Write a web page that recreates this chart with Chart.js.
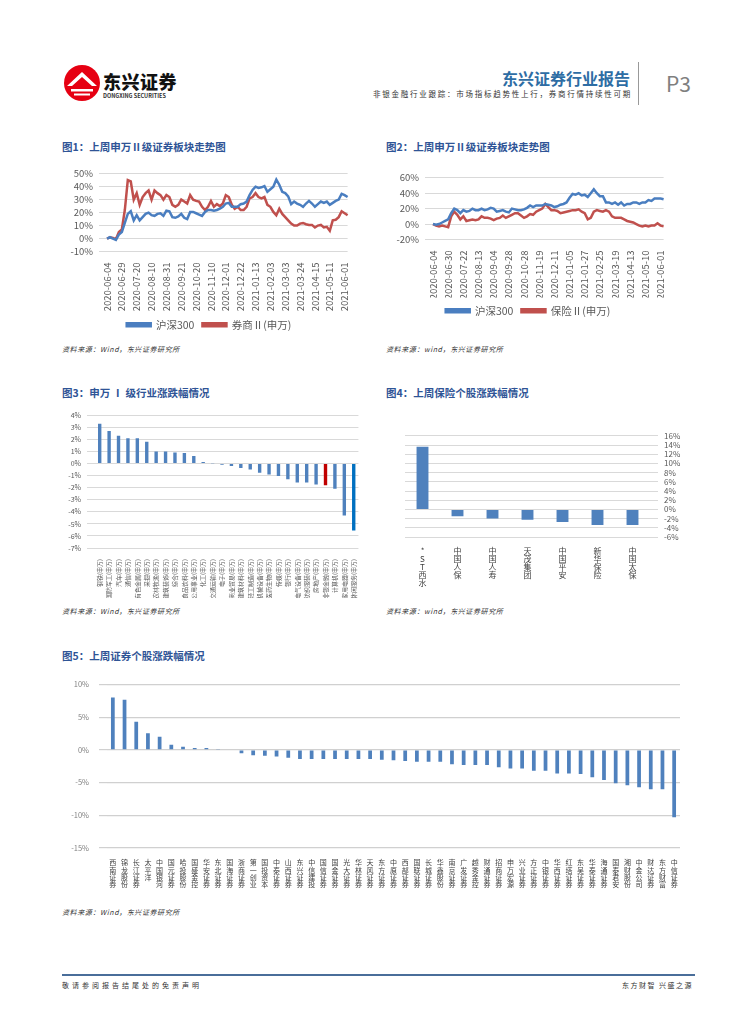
<!DOCTYPE html>
<html>
<head>
<meta charset="utf-8">
<script src="https://cdn.jsdelivr.net/npm/chart.js@4.4.0/dist/chart.umd.min.js"></script>
<style>
body{margin:0;width:755px;height:1024px;background:#fff;position:relative;overflow:hidden;font-family:"Noto Sans CJK SC","Noto Sans",sans-serif}
.abs{position:absolute;white-space:nowrap}
.title{font-size:10.5px;font-weight:bold;color:#2F5496;line-height:14px}
.src{font-size:7px;font-style:italic;color:#333;line-height:10px;letter-spacing:0.6px}
canvas{position:absolute}
</style>
</head>
<body>
<!-- header -->
<svg class="abs" style="left:63px;top:64px" width="38" height="38" viewBox="0 0 38 38">
  <circle cx="19" cy="19" r="18" fill="#E60012"/>
  <path d="M4 22 L19 8 L34 22 L29 22 L19 13 L9 22 Z" fill="#fff"/>
  <path d="M8 25 H30 V27.5 H8 Z" fill="#fff"/>
  <path d="M11 29.5 H27 V31.5 H11 Z" fill="#fff"/>
</svg>
<div class="abs" style="left:103px;top:68px;font-size:18px;font-weight:900;color:#111;letter-spacing:0.5px">东兴证券</div>
<div class="abs" style="left:103px;top:92px;font-size:5.5px;font-weight:bold;color:#333">DONGXING SECURITIES</div>
<div class="abs" style="right:125px;top:66px;font-size:16px;font-weight:bold;color:#2E6DA4">东兴证券行业报告</div>
<div class="abs" style="right:123px;top:88px;font-size:7.5px;color:#333;letter-spacing:1.75px">非银金融行业跟踪：市场指标趋势性上行，券商行情持续性可期</div>
<div class="abs" style="left:638px;top:62px;width:1px;height:43px;background:#999"></div>
<div class="abs" style="left:666px;top:68px;font-size:21px;color:#7F7F7F">P3</div>

<div class="abs title" style="left:62px;top:140px">图1：上周申万Ⅱ级证券板块走势图</div>
<div class="abs title" style="left:386px;top:140px">图2：上周申万Ⅱ级证券板块走势图</div>
<canvas id="c1" width="300" height="178" style="left:62px;top:162px"></canvas>
<canvas id="c2" width="292" height="160" style="left:386px;top:166px"></canvas>
<div class="abs src" style="left:62px;top:344px">资料来源：Wind，东兴证券研究所</div>
<div class="abs src" style="left:386px;top:344px">资料来源：wind，东兴证券研究所</div>

<div class="abs title" style="left:62px;top:386px">图3：申万 Ⅰ 级行业涨跌幅情况</div>
<div class="abs title" style="left:386px;top:386px">图4：上周保险个股涨跌幅情况</div>
<canvas id="c3" width="302" height="193" style="left:62px;top:405px"></canvas>
<canvas id="c4" width="290" height="164" style="left:400px;top:425px"></canvas>
<div class="abs src" style="left:62px;top:606px">资料来源：Wind，东兴证券研究所</div>
<div class="abs src" style="left:386px;top:606px">资料来源：wind，东兴证券研究所</div>

<div class="abs title" style="left:62px;top:649px">图5：上周证券个股涨跌幅情况</div>
<canvas id="c5" width="624" height="232" style="left:62px;top:670px"></canvas>
<div class="abs src" style="left:62px;top:907px">资料来源：Wind，东兴证券研究所</div>

<!-- footer -->
<div class="abs" style="left:62px;top:974px;width:633px;height:2px;background:#4A6E9A"></div>
<div class="abs" style="left:62px;top:980px;font-size:7px;color:#333;letter-spacing:3px">敬请参阅报告结尾处的免责声明</div>
<div class="abs" style="right:62px;top:980px;font-size:7px;color:#333;letter-spacing:1.5px">东方财智 兴盛之源</div>

<script>
// ---- 图1 ----
const dates1 = ['2020-06-04','2020-06-29','2020-07-20','2020-08-10','2020-08-31','2020-09-21','2020-10-20','2020-11-10','2020-12-01','2020-12-22','2021-01-13','2021-02-03','2021-03-03','2021-03-24','2021-04-15','2021-05-11','2021-06-01'];
const hs300A = [0,1,0,-1,3,5, 12,19,21,14,18, 14,16.5,19,20,18, 17.5,19,19.5,17.5,21.5, 21,16.5,16,17,19, 16,15,20.5,20.5,19.5, 18.5,17.5,20.5,22,22, 21.5,22,23,24.5,27, 27.5,24.5,24.5,24.5,26.5, 27,28.5,33.5,37.5,40, 39,39.5,40.5,36,38, 40,45.5,41.5,36,35, 32.5,26.5,28.5,27,26, 24.5,27,29,27,24.5, 26.5,28.5,27.5,28.5,26, 27.5,29,30,34.5,33.5, 32];
const brokers = [0,1,0.5,-0.5,5,7, 22,45,44,30,35, 26,32,35,37,30, 37,35,33.5,30,33.5, 32,26,24.5,26,30, 28.5,27,33.5,30,29, 28.5,24.5,22,24.5,29, 24.5,26.5,25,27,33.5, 32,26,23,24.5,22, 22,24.5,31,32,35, 32,31,32,26,24.5, 20.5,18,23,19,16.5, 14,11.5,10,10,11.5, 12,11,10.5,10.5,8.5, 10,10.5,8.5,9,6, 14,14.5,16.5,21,19.5, 18];
const step1 = 5;

// ---- 图2 ----
const dates2 = ['2020-06-04','2020-06-30','2020-07-22','2020-08-13','2020-09-04','2020-09-28','2020-10-28','2020-11-19','2020-12-11','2021-01-05','2021-01-27','2021-02-25','2021-03-19','2021-04-13','2021-05-10','2021-06-01'];
const hs300B = [0,-1,0,2,4,6, 14,20,18,14,18, 16,17,20,18,18, 20,18,19,21,20, 16,17,18,16,15, 20,19,18,18,19, 21,24,22,24,24, 24,26,25,24,22, 23,25,26,28,34, 39,38,40,37,38, 35,40,45,40,36, 36,28,28,26,28, 25,28,24,26,26, 28,28,26,28,28, 31,30,33,33,33, 32];
const insurance = [0,-2,-3,-2,-3,-4, 10,16,12,6,10, 4,5,6,5,6, 10,8,8,7,5, 7,8,11,8,10, 12,14,14,11,8, 10,13,12,16,18, 20,26,22,18,18, 17,14,15,16,17, 18,18,19,16,14, 6,8,16,18,17, 16,18,16,10,8, 8,8,6,4,3, 2,0,-2,-3,-2, -3,-2,-2,1,-2, -3];
const step2 = 5;

// ---- 图3 ----
const industries = ['钢铁(申万)','国防军工(申万)','汽车(申万)','通信(申万)','有色金属(申万)','采掘(申万)','农林牧渔(申万)','建筑装饰(申万)','综合(申万)','食品饮料(申万)','公用事业(申万)','化工(申万)','交通运输(申万)','电子(申万)','商业贸易(申万)','建筑材料(申万)','轻工制造(申万)','机械设备(申万)','医药生物(申万)','传媒(申万)','银行(申万)','电气设备(申万)','纺织服装(申万)','房地产(申万)','非银金融(申万)','计算机(申万)','家用电器(申万)','休闲服务(申万)'];
const industryChg = [3.3,2.7,2.3,2.1,2.1,1.8,1.0,1.0,0.92,0.86,0.62,0.13,-0.03,-0.1,-0.2,-0.38,-0.5,-0.76,-0.92,-1.03,-1.3,-1.57,-1.57,-1.73,-1.8,-2.1,-4.3,-5.55];
const industryTicks = [4,3,2,1,0,-1,-2,-3,-4,-5,-6,-7];

// ---- 图4 ----
const insurers = ['*ST西水','中国人保','中国人寿','天茂集团','中国平安','新华保险','中国太保'];
const insurerChg = [13.6,-1.5,-2.0,-2.25,-2.75,-3.4,-3.4];

// ---- 图5 ----
const securities = ['西南证券','锦龙股份','长江证券','太平洋','中国银河','国元证券','哈投股份','国盛金控','华安证券','东北证券','国海证券','浙商证券','第一创业','国投资本','中泰证券','山西证券','东兴证券','中信建投','国信证券','国金证券','光大证券','华林证券','天风证券','东方证券','中原证券','西部证券','国联证券','长城证券','华鑫股份','南京证券','广发证券','越秀金控','财通证券','招商证券','申万宏源','兴业证券','方正证券','中银证券','华西证券','红塔证券','东吴证券','华泰证券','海通证券','国泰君安','湘财股份','中金公司','财达证券','东方财富','中信证券'];
const securitiesChg = [8.0,7.65,4.3,2.55,2.0,0.77,0.5,0.3,0.3,0.15,0, -0.5,-0.8,-0.9,-1.0,-1.2,-1.4,-1.4,-1.4,-1.4,-1.4,-1.4,-1.4,-1.5, -1.6,-1.7,-1.8,-1.8,-1.8,-2.2,-2.3,-2.3,-2.3,-2.65,-2.85,-2.85,-3.2,-3.2,-3.6,-3.6,-3.7,-4.2,-4.6,-5.1,-5.4,-5.7,-6.0,-6.0,-10.3];

Chart.defaults.font.family = '"Noto Sans CJK SC","Noto Sans",sans-serif';
Chart.defaults.animation = false;
Chart.defaults.color = '#595959';

const BLUE = '#4A7EC0', RED = '#C0504D', GRID = '#D9D9D9';
const pct = v => v + '%';

function lineChart(id, dates, step, values, names, yMin, yMax, yStep, yW, xH, pad) {
  const labels = values[0].map((_, i) => i % step === 0 && dates[i / step] ? dates[i / step] : '');
  return new Chart(document.getElementById(id), {
    type: 'line',
    data: {
      labels: labels,
      datasets: [
        { label: names[0], data: values[0], borderColor: BLUE, backgroundColor: BLUE, borderWidth: 2.5, pointRadius: 0, tension: 0 },
        { label: names[1], data: values[1], borderColor: RED, backgroundColor: RED, borderWidth: 2.5, pointRadius: 0, tension: 0 }
      ]
    },
    options: {
      responsive: false,
      layout: { padding: pad },
      plugins: {
        legend: { position: 'bottom', labels: { boxWidth: 24, boxHeight: 3, padding: 8, font: { size: 10.5 } } },
        tooltip: { enabled: false }
      },
      scales: {
        x: {
          grid: { display: false }, border: { display: false },
          ticks: { autoSkip: false, minRotation: 90, maxRotation: 90, padding: 3, font: { size: 9.5 } },
          afterFit: s => { s.height = xH; }
        },
        y: {
          min: yMin, max: yMax,
          grid: { color: GRID }, border: { display: false },
          ticks: { stepSize: yStep, autoSkip: false, callback: pct, font: { size: 9.5 }, padding: 6 },
          afterFit: s => { s.width = yW; }
        }
      }
    }
  });
}

lineChart('c1', dates1, step1, [hs300A, brokers], ['沪深300', '券商Ⅱ(申万)'], -10, 50, 10, 45, 60, { top: 2, right: 6 });
lineChart('c2', dates2, step2, [hs300B, insurance], ['沪深300', '保险Ⅱ(申万)'], -20, 60, 20, 47, 58, { top: 5, right: 8 });

// 图3
new Chart(document.getElementById('c3'), {
  type: 'bar',
  data: {
    labels: industries,
    datasets: [{
      data: industryChg,
      backgroundColor: ctx => industries[ctx.dataIndex] === '非银金融(申万)' ? '#C00000' : (ctx.dataIndex === industries.length - 1 ? '#0070C0' : '#4F81BD'),
      categoryPercentage: 1, barPercentage: 0.36
    }]
  },
  options: {
    responsive: false,
    layout: { padding: { top: 4, right: 4 } },
    plugins: { legend: { display: false }, tooltip: { enabled: false } },
    scales: {
      x: {
        grid: { display: false }, border: { display: false },
        ticks: { autoSkip: false, minRotation: 90, maxRotation: 90, padding: 3, font: { size: 6 } },
        afterFit: s => { s.height = 50; }
      },
      y: {
        min: -7, max: 4,
        grid: { color: GRID }, border: { display: false },
        afterBuildTicks: s => { s.ticks = industryTicks.map(v => ({ value: v })); },
        ticks: { autoSkip: false, callback: pct, font: { size: 7 }, padding: 6 },
        afterFit: s => { s.width = 33; }
      }
    }
  }
});

// 图4
new Chart(document.getElementById('c4'), {
  type: 'bar',
  data: {
    labels: insurers.map(n => n.split('')),
    datasets: [{ data: insurerChg, backgroundColor: '#4F81BD', categoryPercentage: 1, barPercentage: 0.34 }]
  },
  options: {
    responsive: false,
    layout: { padding: { top: 2, left: 5 } },
    plugins: { legend: { display: false }, tooltip: { enabled: false } },
    scales: {
      x: {
        grid: { display: false }, border: { display: false },
        ticks: { autoSkip: false, maxRotation: 0, minRotation: 0, padding: 2, color: '#404040', font: { size: 8, lineHeight: 1.0 } },
        afterFit: s => { s.height = 52; }
      },
      y: {
        position: 'right', min: -6, max: 16,
        grid: { color: GRID }, border: { display: false },
        ticks: { stepSize: 2, autoSkip: false, callback: pct, font: { size: 8 }, padding: 6 },
        afterFit: s => { s.width = 40; }
      }
    }
  }
});

// 图5
new Chart(document.getElementById('c5'), {
  type: 'bar',
  data: {
    labels: securities.map(n => n.split('')),
    datasets: [{ data: securitiesChg, backgroundColor: '#4F81BD', categoryPercentage: 1, barPercentage: 0.32 }]
  },
  options: {
    responsive: false,
    layout: { padding: { top: 4, right: 6 } },
    plugins: { legend: { display: false }, tooltip: { enabled: false } },
    scales: {
      x: {
        grid: { display: false }, border: { display: false },
        ticks: { autoSkip: false, maxRotation: 0, minRotation: 0, padding: 3, color: '#404040', font: { size: 7, lineHeight: 1.05 } },
        afterFit: s => { s.height = 54; }
      },
      y: {
        min: -15, max: 10,
        grid: { color: '#D0D0D0', lineWidth: 1.2 }, border: { display: false },
        ticks: { stepSize: 5, autoSkip: false, callback: pct, font: { size: 7.5 }, color: '#7F7F7F', padding: 10 },
        afterFit: s => { s.width = 45; }
      }
    }
  }
});
</script>
</body>
</html>
